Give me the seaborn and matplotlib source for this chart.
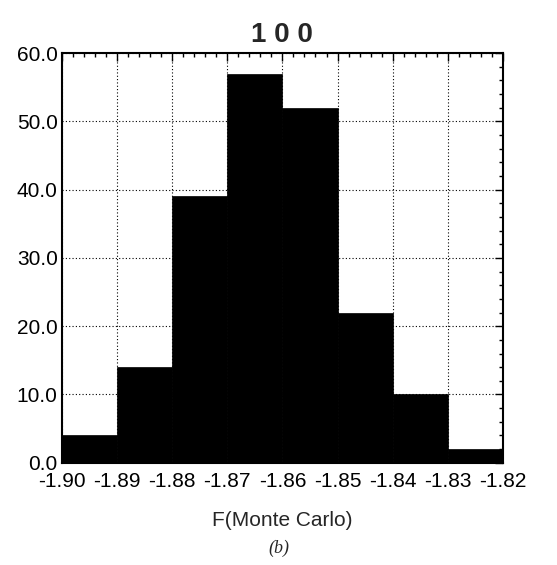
import numpy as np
import pandas as pd
import matplotlib
matplotlib.use("Agg")
import matplotlib.pyplot as plt
from matplotlib.ticker import MultipleLocator, FormatStrFormatter
import seaborn as sns

# histogram data
bin_edges = [-1.90, -1.89, -1.88, -1.87, -1.86, -1.85, -1.84, -1.83, -1.82]
counts = [4, 14, 39, 57, 52, 22, 10, 2]
x_ticks = [-1.90, -1.89, -1.88, -1.87, -1.86, -1.85, -1.84, -1.83, -1.82]
y_ticks = [0, 10, 20, 30, 40, 50, 60]

sns.set_style("white")
plt.rcParams['font.family'] = ['Liberation Sans', 'DejaVu Sans']

centers = [(a + b) / 2 for a, b in zip(bin_edges[:-1], bin_edges[1:])]
df = pd.DataFrame({"F": centers, "n": counts})

fig = plt.figure(figsize=(5.57, 5.65), dpi=100)
ax = fig.add_axes([0.111, 0.181, 0.792, 0.725])

ax.set_axisbelow(True)
ax.grid(True, which="major", color="black", linestyle=(0, (1, 2)), linewidth=0.8)

sns.histplot(data=df, x="F", weights="n", bins=bin_edges, color="black",
             edgecolor="black", alpha=1, linewidth=0.5, ax=ax, zorder=2)

ax.set_xlim(-1.90, -1.82)
ax.set_ylim(0, 60)
ax.set_xticks(x_ticks)
ax.set_yticks(y_ticks)
ax.xaxis.set_major_formatter(FormatStrFormatter("%.2f"))
ax.yaxis.set_major_formatter(FormatStrFormatter("%.1f"))
ax.xaxis.set_minor_locator(MultipleLocator(0.002))
ax.yaxis.set_minor_locator(MultipleLocator(2))
ax.tick_params(which="both", direction="in", top=True, right=True, colors="black")
ax.tick_params(which="major", length=6, width=1, labelsize=15)
ax.tick_params(which="minor", length=3, width=1)
ax.tick_params(axis="x", pad=7)
ax.tick_params(axis="y", pad=3)
for s in ax.spines.values():
    s.set_visible(True)
    s.set_color("black")
    s.set_linewidth(1.5)

ax.set_ylabel("")
ax.set_xlabel("F(Monte Carlo)", fontsize=15, labelpad=14)
ax.set_title("1 0 0", fontsize=20, fontweight="bold", pad=8)
fig.text(0.5, 0.022, "(b)", ha="center", fontsize=13, style="italic",
         family=["Liberation Serif", "DejaVu Serif"])

fig.savefig("out.png", dpi=100)
